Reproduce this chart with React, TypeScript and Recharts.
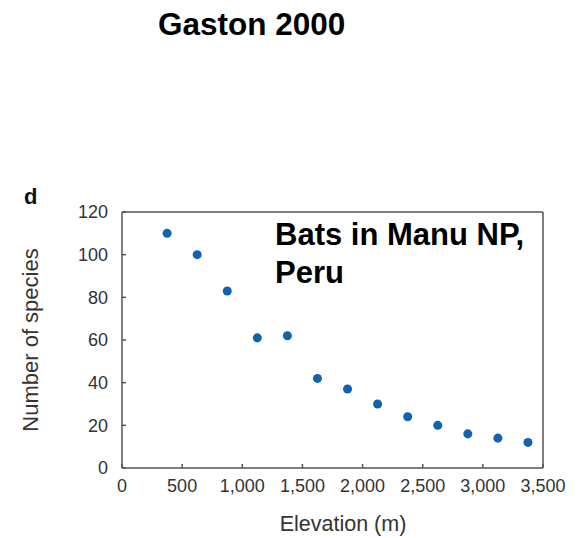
import React from 'react';
import { ScatterChart, Scatter, XAxis, YAxis, ZAxis } from 'recharts';

const elevation = [375, 625, 875, 1125, 1375, 1625, 1875, 2125, 2375, 2625, 2875, 3125, 3375];
const species = [110, 100, 83, 61, 62, 42, 37, 30, 24, 20, 16, 14, 12];
const xTicks = [0, 500, 1000, 1500, 2000, 2500, 3000, 3500];
const yTicks = [0, 20, 40, 60, 80, 100, 120];

const data = elevation.map((e, i) => ({ x: e, y: species[i] }));

const FONT = '"Liberation Sans", Arial, Helvetica, sans-serif';
const AXIS = '#555555';
const TICK_TEXT = '#333333';

export default function App() {
  return (
    <div style={{ position: 'absolute', left: 0, top: 0, width: 583, height: 538, background: '#fff', fontFamily: FONT }}>
      <ScatterChart
        width={583}
        height={538}
        margin={{ top: 202, right: 30, bottom: 30, left: 62 }}
        style={{ fontFamily: FONT }}
      >
        <XAxis
          dataKey="x"
          type="number"
          domain={[0, 3500]}
          ticks={xTicks}
          height={40}
          tickFormatter={(v: number) => v.toLocaleString('en-US')}
          tickSize={-4}
          tickMargin={15}
          stroke={AXIS}
          strokeWidth={1.5}
          tick={{ fill: TICK_TEXT, fontSize: 18, fontFamily: FONT }}
          interval={0}
        />
        <XAxis
          xAxisId="top"
          dataKey="x"
          orientation="top"
          type="number"
          domain={[0, 3500]}
          ticks={xTicks}
          height={10}
          tick={false}
          tickSize={-4}
          stroke={AXIS}
          strokeWidth={1.5}
          interval={0}
        />
        <YAxis
          dataKey="y"
          type="number"
          domain={[0, 120]}
          ticks={yTicks}
          width={60}
          tickSize={-4}
          tickMargin={18}
          stroke={AXIS}
          strokeWidth={1.5}
          tick={{ fill: TICK_TEXT, fontSize: 18, fontFamily: FONT }}
          interval={0}
        />
        <YAxis
          yAxisId="right"
          dataKey="y"
          orientation="right"
          type="number"
          domain={[0, 120]}
          ticks={yTicks}
          width={10}
          tick={false}
          tickSize={-4}
          stroke={AXIS}
          strokeWidth={1.5}
          interval={0}
        />
        <ZAxis range={[50, 50]} />
        <Scatter
          data={data}
          xAxisId="top"
          yAxisId="right"
          fill="none"
          shape={() => <g />}
          legendType="none"
          isAnimationActive={false}
        />
        <Scatter data={data} fill="#1162b0" isAnimationActive={false} />
      </ScatterChart>
      <svg
        width={583}
        height={538}
        style={{ position: 'absolute', left: 0, top: 0, pointerEvents: 'none' }}
      >
        <text x={158} y={35} fontFamily={FONT} fontWeight="bold" fontSize={31.5} fill="#000">Gaston 2000</text>
        <text x={24} y={204} fontFamily={FONT} fontWeight="bold" fontSize={22} fill="#111">d</text>
        <text x={275} y={245} fontFamily={FONT} fontWeight="bold" fontSize={31} fill="#000">Bats in Manu NP,</text>
        <text x={275} y={283} fontFamily={FONT} fontWeight="bold" fontSize={31} fill="#000">Peru</text>
        <text x={343} y={531} fontFamily={FONT} fontSize={21.5} fill={TICK_TEXT} textAnchor="middle">Elevation (m)</text>
        <text
          x={38}
          y={340}
          fontFamily={FONT}
          fontSize={22}
          fill={TICK_TEXT}
          textAnchor="middle"
          transform="rotate(-90 38 340)"
        >
          Number of species
        </text>
      </svg>
    </div>
  );
}
